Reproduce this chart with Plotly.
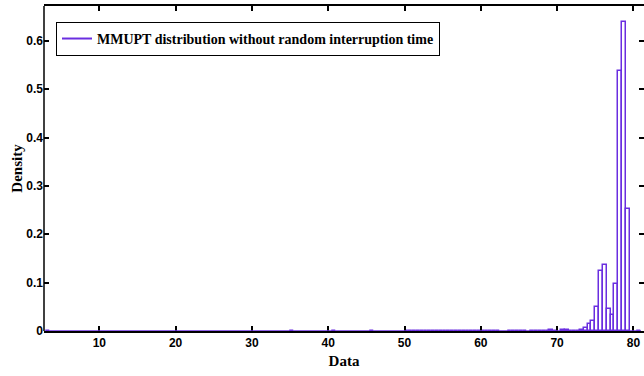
import plotly.graph_objects as go

# Histogram of MMUPT (bin width 0.5); left edge of each non-empty bin and its density
bin_left = [3.0, 35.0, 40.5, 45.5,
            50.0, 50.5, 51.0, 51.5, 52.0, 52.5, 53.0, 53.5, 54.0, 54.5, 55.0, 55.5,
            56.0, 56.5, 57.0, 57.5, 58.0, 58.5, 59.0, 59.5, 60.0, 60.5, 61.0, 61.5, 62.0,
            63.5, 64.0, 64.5, 65.0, 65.5,
            66.5, 67.0, 67.5, 68.0, 68.5, 69.0, 69.5,
            70.5, 71.0, 71.5, 72.0, 72.5,
            73.0, 73.5, 74.0, 74.5, 75.0, 75.5, 76.0, 76.5, 77.0, 77.5,
            78.0, 78.5, 79.0, 80.5]
density = [0.001, 0.001, 0.001, 0.001,
           0.0008, 0.0008, 0.0008, 0.0008, 0.0008, 0.0008, 0.0008, 0.0008, 0.0008, 0.0008, 0.0008, 0.0008,
           0.0008, 0.0008, 0.0008, 0.0008, 0.0008, 0.0008, 0.0008, 0.0008, 0.0008, 0.0008, 0.0008, 0.0008, 0.0008,
           0.0008, 0.0008, 0.0008, 0.0008, 0.0008,
           0.0008, 0.0008, 0.0008, 0.0008, 0.0008, 0.003, 0.0008,
           0.003, 0.003, 0.001, 0.001, 0.001,
           0.002, 0.006, 0.015, 0.02, 0.05, 0.124, 0.137, 0.045, 0.033, 0.098,
           0.537, 0.639, 0.252, 0.001]
bin_width = 0.5
data_min, data_max = 3.0, 81.0

x_ticks = [10, 20, 30, 40, 50, 60, 70, 80]
y_ticks = [0, 0.1, 0.2, 0.3, 0.4, 0.5, 0.6]

label = "MMUPT distribution without random interruption time"
bar_color = "#6a2ee0"

centers = [l + bin_width / 2 for l in bin_left]

fig = go.Figure()
fig.add_trace(go.Bar(
    x=centers, y=density, width=bin_width,
    marker=dict(color="rgba(255,255,255,0)", line=dict(color=bar_color, width=1.5)),
    showlegend=False, legendgroup="h",
))
# legend entry drawn as a line sample, like the outline of the histogram
fig.add_trace(go.Scatter(
    x=[None], y=[None], mode="lines", name=label, legendgroup="h",
    line=dict(color=bar_color, width=2),
))

# outline of the empty bins along the baseline
fig.add_shape(type="line", x0=data_min, x1=data_max, y0=0, y1=0,
              line=dict(color=bar_color, width=1.5), layer="above")
# left spine (the right edge of the box falls outside the figure)
fig.add_shape(type="line", xref="paper", yref="paper", x0=0, x1=0, y0=0, y1=1,
              line=dict(color="black", width=1.5), layer="above")

axis_font = dict(family="Liberation Sans Narrow, Liberation Sans, Arial", size=12,
                 color="black", weight="bold")
title_font = dict(family="Liberation Serif, Times New Roman, serif", size=15,
                  color="black", weight="bold")

fig.update_layout(
    width=644, height=376,
    margin=dict(l=44, r=0, t=6, b=45),
    paper_bgcolor="white", plot_bgcolor="white",
    bargap=0,
    showlegend=True,
    legend=dict(
        x=0.02, y=0.951, xanchor="left", yanchor="top",
        bgcolor="white", bordercolor="black", borderwidth=1,
        font=dict(family="Liberation Serif, Times New Roman, serif", size=14,
                  color="black", weight="bold"),
        itemwidth=30,
    ),
    xaxis=dict(
        range=[2.75, 81.39], tickvals=x_ticks, ticks="inside", ticklen=5,
        tickcolor="black", tickwidth=1.5, showline=True, linecolor="black", linewidth=1.5,
        mirror="ticks", showgrid=False, zeroline=False, tickfont=axis_font,
        title=dict(text="Data", font=title_font, standoff=6),
    ),
    yaxis=dict(
        range=[0, 0.672], tickvals=y_ticks, ticktext=["0", "0.1", "0.2", "0.3", "0.4", "0.5", "0.6"],
        ticks="inside", ticklen=5,
        tickcolor="black", tickwidth=1.5, showline=False,
        mirror="ticks", showgrid=False, zeroline=False, tickfont=axis_font,
        title=dict(text="Density", font=title_font, standoff=0),
    ),
)

fig.write_html("out.html")
